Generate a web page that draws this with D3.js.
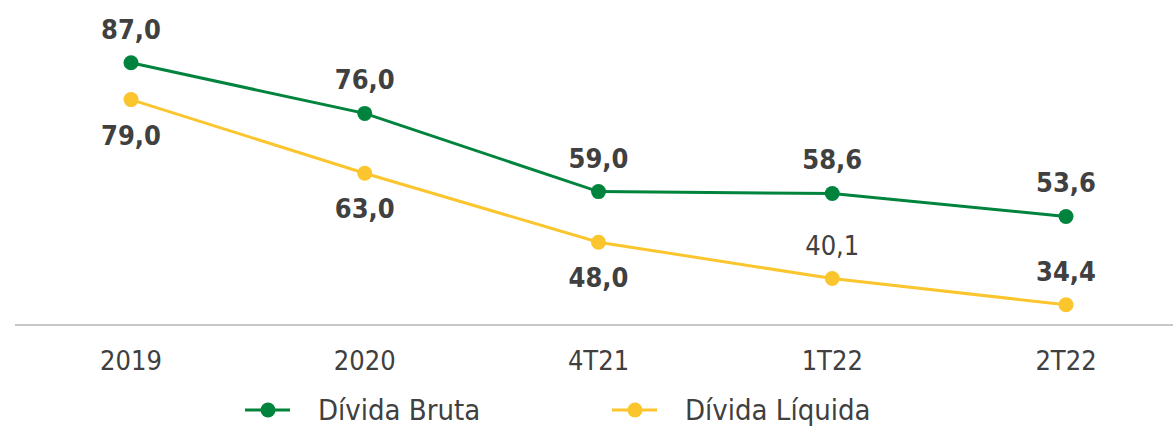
<!DOCTYPE html>
<html><head><meta charset="utf-8">
<script src="https://cdn.jsdelivr.net/npm/d3@7"></script>
<style>body{margin:0;background:#fff}svg{display:block}</style>
</head><body>
<svg id="c" width="1173" height="426"></svg>
<script>
const categories = ["2019","2020","4T21","1T22","2T22"];
const brutaValues = [87.0, 76.0, 59.0, 58.6, 53.6];
const liquidaValues = [79.0, 63.0, 48.0, 40.1, 34.4];
const brutaLabels = ["87,0","76,0","59,0","58,6","53,6"];
const liquidaLabels = ["79,0","63,0","48,0","40,1","34,4"];
const liquidaLabelAbove = [false,false,false,true,true];
const liquidaLabelBold = [true,true,true,false,true];
const seriesNames = ["Dívida Bruta","Dívida Líquida"];
const colors = ["#00843D","#FBC52D"];

const svg = d3.select("#c");
const font = "'DejaVu Sans Condensed', 'DejaVu Sans', sans-serif";
const textColor = "#404040";
const x = d3.scalePoint().domain(categories).range([131,1066]);
const y = d3.scaleLinear().domain([30,100]).range([325,3]);

svg.append("line").attr("x1",15).attr("x2",1173).attr("y1",y(30)).attr("y2",y(30))
  .attr("stroke","#c8c8c8").attr("stroke-width",2);

svg.selectAll("text.xt").data(categories).join("text").attr("class","xt")
  .attr("x",d=>x(d)).attr("y",370).attr("text-anchor","middle")
  .attr("font-family",font).attr("font-size",27).attr("fill",textColor).text(d=>d);

const line = d3.line().x((d,i)=>x(categories[i])).y(d=>y(d));
[brutaValues, liquidaValues].forEach((vals,si)=>{
  svg.append("path").datum(vals).attr("d",line).attr("fill","none")
    .attr("stroke",colors[si]).attr("stroke-width",3);
  svg.selectAll("circle.s"+si).data(vals).join("circle").attr("class","s"+si)
    .attr("cx",(d,i)=>x(categories[i])).attr("cy",d=>y(d)).attr("r",7.5).attr("fill",colors[si]);
});

svg.selectAll("text.bl").data(brutaValues).join("text").attr("class","bl")
  .attr("x",(d,i)=>x(categories[i])).attr("y",d=>y(d)-24).attr("text-anchor","middle")
  .attr("font-family",font).attr("font-weight","bold").attr("font-size",27)
  .attr("fill",textColor).text((d,i)=>brutaLabels[i]);

svg.selectAll("text.ll").data(liquidaValues).join("text").attr("class","ll")
  .attr("x",(d,i)=>x(categories[i])).attr("y",(d,i)=>liquidaLabelAbove[i]? y(d)-24 : y(d)+45)
  .attr("text-anchor","middle")
  .attr("font-family",font).attr("font-weight",(d,i)=>liquidaLabelBold[i]?"bold":"normal").attr("font-size",27)
  .attr("fill",textColor).text((d,i)=>liquidaLabels[i]);

const legendX = [245, 612];
seriesNames.forEach((n,i)=>{
  const g = svg.append("g").attr("transform",`translate(${legendX[i]},410)`);
  g.append("line").attr("x1",0).attr("x2",45).attr("stroke",colors[i]).attr("stroke-width",3);
  g.append("circle").attr("cx",23).attr("r",7.5).attr("fill",colors[i]);
  g.append("text").attr("x",73).attr("y",10).attr("font-family",font)
    .attr("font-size",29).attr("fill",textColor).text(n);
});
</script>
</body></html>
